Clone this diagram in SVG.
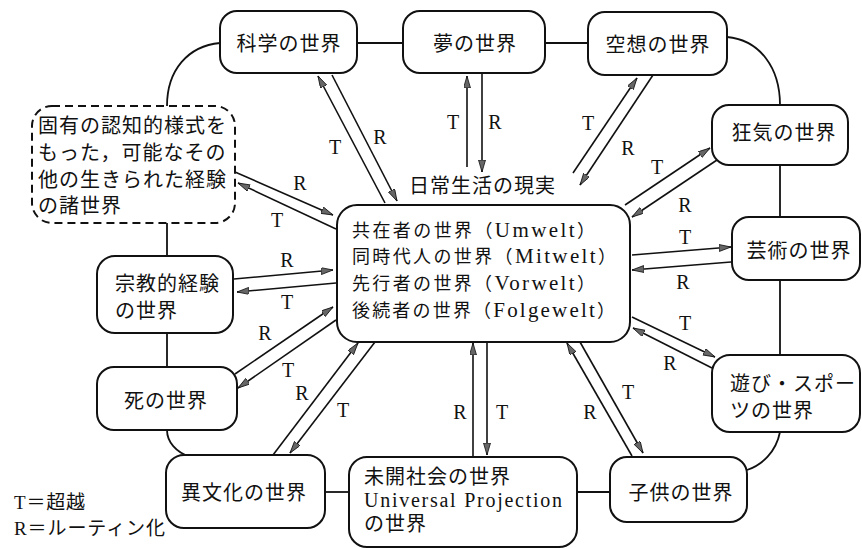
<svg xmlns="http://www.w3.org/2000/svg" width="862" height="548" viewBox="0 0 862 548">
<style>
.box{fill:#fff;stroke:#111;stroke-width:2}
.dash{fill:#fff;stroke:#111;stroke-width:2;stroke-dasharray:8 5}
.ring{fill:none;stroke:#111;stroke-width:1.8}
.arr{fill:none;stroke:#111;stroke-width:1.6;marker-end:url(#ah)}
text{font-family:"Liberation Serif","Noto Sans CJK JP",serif;fill:#111}
.n{font-size:20px;letter-spacing:1px}
.nc{font-size:20px;letter-spacing:1px;text-anchor:middle}
.c{font-size:18px}
.lat{font-size:21px}
.lb{font-size:20px;text-anchor:middle}
.lg{font-size:19px}
</style>
<defs>
<marker id="ah" markerUnits="userSpaceOnUse" markerWidth="14" markerHeight="8" refX="12" refY="3.5" orient="auto">
<path d="M0,0 L12,3.5 L0,7 z" fill="#666" stroke="#111" stroke-width="0.8"/>
</marker>
</defs>

<g id="ring">
<path class="ring" d="M357,43 H403"/>
<path class="ring" d="M545,43 H588"/>
<path class="ring" d="M727,37 C760,40 780,68 780,105"/>
<path class="ring" d="M780,165 V217"/>
<path class="ring" d="M780,280 V355"/>
<path class="ring" d="M780,432 C776,452 762,465 747,470"/>
<path class="ring" d="M577,492 H610"/>
<path class="ring" d="M325,492 H349"/>
<path class="ring" d="M190,457 C176,452 167,442 167,430"/>
<path class="ring" d="M167,333 V367"/>
<path class="ring" d="M167,223 V256"/>
<path class="ring" d="M167,106 C167,70 188,46 220,43"/>
</g>

<g id="connectors">
<line class="arr" x1="385" y1="203" x2="318" y2="76"/>
<line class="arr" x1="332" y1="75" x2="397" y2="201"/>
<line class="arr" x1="467" y1="167" x2="467" y2="76"/>
<line class="arr" x1="482" y1="73" x2="482" y2="172"/>
<line class="arr" x1="573" y1="173" x2="637" y2="78"/>
<line class="arr" x1="653" y1="75" x2="580" y2="185"/>
<line class="arr" x1="625" y1="205" x2="710" y2="148"/>
<line class="arr" x1="717" y1="160" x2="632" y2="217"/>
<line class="arr" x1="632" y1="255" x2="731" y2="247"/>
<line class="arr" x1="731" y1="262" x2="632" y2="270"/>
<line class="arr" x1="632" y1="317" x2="715" y2="357"/>
<line class="arr" x1="712" y1="368" x2="633" y2="328"/>
<line class="arr" x1="632" y1="456" x2="567" y2="343"/>
<line class="arr" x1="580" y1="342" x2="643" y2="453"/>
<line class="arr" x1="473" y1="456" x2="473" y2="343"/>
<line class="arr" x1="487" y1="342" x2="487" y2="455"/>
<line class="arr" x1="273" y1="455" x2="358" y2="343"/>
<line class="arr" x1="375" y1="342" x2="290" y2="453"/>
<line class="arr" x1="235" y1="374" x2="333" y2="307"/>
<line class="arr" x1="336" y1="320" x2="238" y2="388"/>
<line class="arr" x1="234" y1="279" x2="333" y2="270"/>
<line class="arr" x1="336" y1="283" x2="237" y2="292"/>
<line class="arr" x1="235" y1="172" x2="333" y2="215"/>
<line class="arr" x1="336" y1="229" x2="238" y2="183"/>
</g>

<g id="labels">
<text class="lb" x="335" y="154">T</text>
<text class="lb" x="380" y="144">R</text>
<text class="lb" x="453" y="129">T</text>
<text class="lb" x="495" y="129">R</text>
<text class="lb" x="588" y="130">T</text>
<text class="lb" x="628" y="155">R</text>
<text class="lb" x="657" y="174">T</text>
<text class="lb" x="685" y="212">R</text>
<text class="lb" x="685" y="244">T</text>
<text class="lb" x="683" y="289">R</text>
<text class="lb" x="685" y="330">T</text>
<text class="lb" x="670" y="370">R</text>
<text class="lb" x="590" y="419">R</text>
<text class="lb" x="628" y="399">T</text>
<text class="lb" x="460" y="419">R</text>
<text class="lb" x="502" y="419">T</text>
<text class="lb" x="302" y="400">R</text>
<text class="lb" x="343" y="417">T</text>
<text class="lb" x="265" y="340">R</text>
<text class="lb" x="288" y="377">T</text>
<text class="lb" x="287" y="267">R</text>
<text class="lb" x="287" y="309">T</text>
<text class="lb" x="300" y="190">R</text>
<text class="lb" x="277" y="227">T</text>
</g>

<g id="n-center">
<rect class="box" x="337" y="205" width="293" height="137" rx="20"/>
<text class="c" x="352" y="237" textLength="243">共在者の世界（<tspan class="lat">Umwelt</tspan>）</text>
<text class="c" x="352" y="263" textLength="264">同時代人の世界（<tspan class="lat">Mitwelt</tspan>）</text>
<text class="c" x="352" y="290" textLength="243">先行者の世界（<tspan class="lat">Vorwelt</tspan>）</text>
<text class="c" x="352" y="317" textLength="263">後続者の世界（<tspan class="lat">Folgewelt</tspan>）</text>
</g>
<g id="n-everyday">
<text class="n" x="409" y="193">日常生活の現実</text>
</g>
<g id="n-science">
<rect class="box" x="220" y="11" width="137" height="62" rx="17"/>
<text class="nc" x="289" y="51">科学の世界</text>
</g>
<g id="n-dream">
<rect class="box" x="403" y="11" width="142" height="62" rx="17"/>
<text class="nc" x="475" y="51">夢の世界</text>
</g>
<g id="n-fantasy">
<rect class="box" x="588" y="12" width="139" height="63" rx="17"/>
<text class="nc" x="658" y="52">空想の世界</text>
</g>
<g id="n-madness">
<rect class="box" x="712" y="105" width="136" height="60" rx="17"/>
<text class="nc" x="784" y="140">狂気の世界</text>
</g>
<g id="n-art">
<rect class="box" x="732" y="217" width="128" height="63" rx="17"/>
<text class="nc" x="799" y="258">芸術の世界</text>
</g>
<g id="n-play">
<rect class="box" x="712" y="355" width="148" height="77" rx="18"/>
<text class="n" x="730" y="391">遊び・スポー</text>
<text class="n" x="730" y="418">ツの世界</text>
</g>
<g id="n-child">
<rect class="box" x="610" y="457" width="137" height="65" rx="17"/>
<text class="nc" x="681" y="500">子供の世界</text>
</g>
<g id="n-primitive">
<rect class="box" x="349" y="457" width="228" height="90" rx="18"/>
<text class="n" x="364" y="484">未開社会の世界</text>
<text class="n" x="364" y="507" textLength="199">Universal Projection</text>
<text class="n" x="364" y="531">の世界</text>
</g>
<g id="n-foreign">
<rect class="box" x="166" y="455" width="159" height="73" rx="18"/>
<text class="nc" x="244" y="500">異文化の世界</text>
</g>
<g id="n-death">
<rect class="box" x="97" y="367" width="140" height="63" rx="17"/>
<text class="nc" x="166" y="408">死の世界</text>
</g>
<g id="n-religion">
<rect class="box" x="97" y="256" width="136" height="77" rx="18"/>
<text class="n" x="115" y="291">宗教的経験</text>
<text class="n" x="115" y="318">の世界</text>
</g>
<g id="n-other">
<rect class="dash" x="32" y="106" width="203" height="117" rx="20"/>
<text class="n" x="38" y="133">固有の認知的様式を</text>
<text class="n" x="38" y="160">もった，可能なその</text>
<text class="n" x="38" y="187">他の生きられた経験</text>
<text class="n" x="38" y="213">の諸世界</text>
</g>
<g id="legend">
<text class="lg" x="14" y="509" textLength="71">T＝超越</text>
<text class="lg" x="14" y="535" textLength="151">R＝ルーティン化</text>
</g>
</svg>
